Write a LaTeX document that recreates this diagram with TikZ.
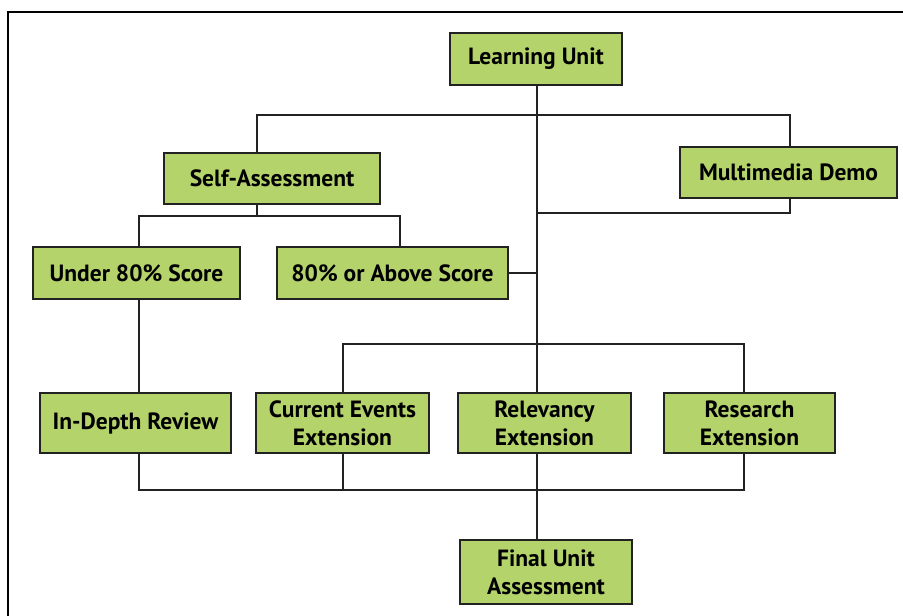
\documentclass[tikz,border=0pt]{standalone}
\usepackage{fontspec}
\setmainfont{PT Sans}
\definecolor{boxgreen}{HTML}{B4D36B}
\definecolor{edge}{HTML}{222222}
\begin{document}
\begin{tikzpicture}[x=1pt,y=-1pt,
  box/.style={draw=edge, line width=1.6pt, fill=boxgreen, inner sep=0pt, align=center,
    font=\bfseries\fontsize{23.5}{28}\selectfont},
  link/.style={draw=edge, line width=1.5pt}]
\useasboundingbox (0,0) rectangle (903,616);
\fill[white] (0,0) rectangle (903,616);
\draw[line width=2.2pt, black] (905,12) -- (8,12) -- (8,618);

\node[box, minimum width=172pt, minimum height=52pt] (lu) at (536,59) {Learning Unit};
\node[box, minimum width=216pt, minimum height=51pt] (sa) at (272,178.5) {Self-Assessment};
\node[box, minimum width=217pt, minimum height=51pt] (mm) at (788.5,172.5) {Multimedia Demo};
\node[box, minimum width=207pt, minimum height=52pt] (u80) at (136.5,273) {Under 80\% Score};
\node[box, minimum width=231pt, minimum height=52pt] (a80) at (392.5,273) {80\% or Above Score};
\node[box, minimum width=191pt, minimum height=60pt] (idr) at (135.5,423) {In-Depth Review};
\node[box, minimum width=173pt, minimum height=60pt] (ce) at (342.5,423) {Current Events\\Extension};
\node[box, minimum width=173pt, minimum height=60pt] (rel) at (544.5,423) {Relevancy\\Extension};
\node[box, minimum width=171pt, minimum height=60pt] (re) at (749.5,423) {Research\\Extension};
\node[box, minimum width=172pt, minimum height=64pt] (fua) at (546,572) {Final Unit\\Assessment};

\coordinate (t) at (537,115);
\coordinate (c1) at (257,115);
\coordinate (c2) at (790,115);
\coordinate (t2) at (537,213);
\coordinate (c3) at (257,216);
\coordinate (c4) at (139,216);
\coordinate (c5) at (400,216);
\coordinate (c6) at (343,344);
\coordinate (c7) at (744,344);
\coordinate (c8) at (139,490);
\coordinate (c9) at (744,490);

\path[link] (lu.south -| t) -- (rel.north -| t);
\path[link] (sa.north -| c1) -- (c1) -- (c2) -- (mm.north -| c2);
\path[link] (mm.south -| c2) |- (t2);
\path[link] (sa.south -| c3) -- (c3);
\path[link] (u80.north -| c4) -- (c4) -- (c5) -- (a80.north -| c5);
\path[link] (a80.east) -- (a80.east -| t);
\path[link] (u80.south -| c4) -- (idr.north -| c4);
\path[link] (ce.north -| c6) -- (c6) -- (c7) -- (re.north -| c7);
\path[link] (idr.south -| c8) -- (c8) -- (c9) -- (re.south -| c9);
\path[link] (ce.south -| c6) -- (c6 |- c8);
\path[link] (rel.south -| t) -- (fua.north -| t);
\end{tikzpicture}
\end{document}
